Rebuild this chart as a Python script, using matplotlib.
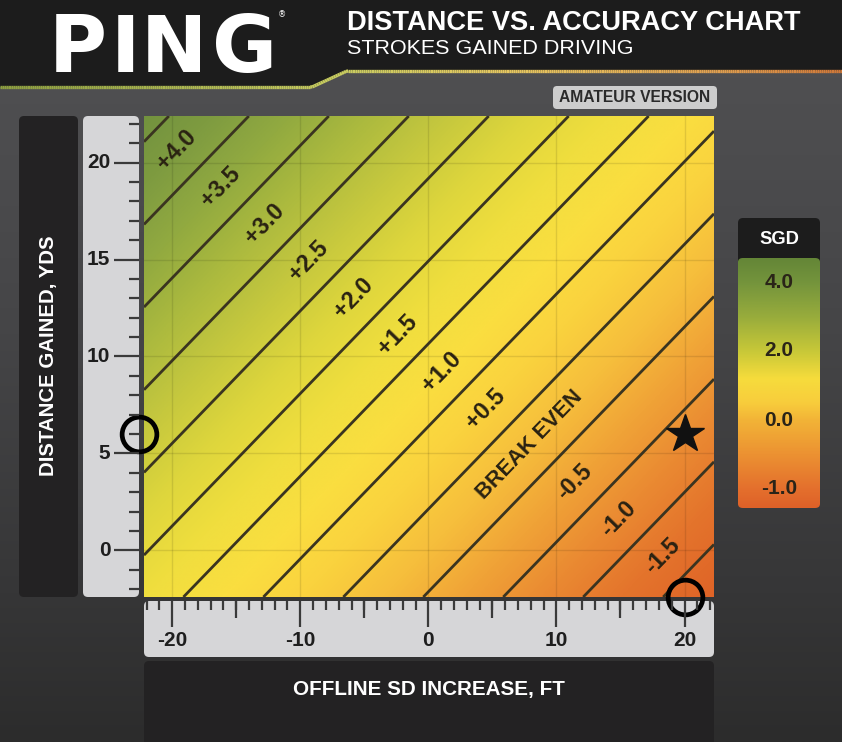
import numpy as np
import matplotlib
matplotlib.use("Agg")
import matplotlib.pyplot as plt
from matplotlib.patches import FancyBboxPatch, Polygon
from matplotlib.colors import LinearSegmentedColormap
from matplotlib.collections import LineCollection
import matplotlib.transforms as mtransforms

# ---------------- data ----------------
x_ticks = [-20, -10, 0, 10, 20]
x_tick_labels = ["-20", "-10", "0", "10", "20"]
x_mid_ticks = [-15, -5, 5, 15]
y_ticks = [0, 5, 10, 15, 20]
y_tick_labels = ["0", "5", "10", "15", "20"]
x_limits = (-22.2, 22.3)          # offline SD increase, ft
y_limits = (-2.4, 22.4)           # distance gained, yds
sgd_per_yard = 0.1173             # strokes gained per yard of distance
sgd_per_foot = -0.0801            # strokes gained per foot of offline SD
line_levels = [-1.75, -1.25, -0.75, -0.25, 0.25, 0.75, 1.25, 1.75,
               2.25, 2.75, 3.25, 3.75, 4.25]
band_values = [4.0, 3.5, 3.0, 2.5, 2.0, 1.5, 1.0, 0.5, 0.0, -0.5, -1.0, -1.5]
band_labels = ["+4.0", "+3.5", "+3.0", "+2.5", "+2.0", "+1.5", "+1.0",
               "+0.5", "BREAK EVEN", "-0.5", "-1.0", "-1.5"]
star_point = (20, 6)
cbar_values = [-1.0, 0.0, 2.0, 4.0]
cbar_labels = ["-1.0", "0.0", "2.0", "4.0"]
logo_letters = ["P", "I", "N", "G"]

# colour stops (SGD value -> colour)
field_stops = [(-2.2, (222, 96, 38)), (-1.5, (228, 116, 44)), (-1.0, (234, 138, 50)),
               (-0.5, (240, 163, 55)), (0.0, (246, 190, 60)), (0.5, (250, 210, 62)),
               (1.0, (250, 222, 64)), (1.5, (240, 222, 62)), (2.0, (222, 214, 60)),
               (2.5, (198, 200, 62)), (3.0, (172, 186, 62)), (3.5, (146, 170, 64)),
               (4.0, (126, 155, 64)), (4.6, (110, 143, 62))]
cbar_stops = [(-1.3, (222, 96, 40)), (-1.0, (228, 112, 45)), (-0.5, (236, 146, 50)),
              (0.0, (242, 180, 55)), (0.5, (248, 205, 60)), (1.2, (246, 220, 60)),
              (2.0, (200, 200, 56)), (3.0, (152, 172, 60)), (4.0, (116, 148, 60)),
              (4.7, (100, 134, 55))]

# ---------------- helpers ----------------
W, H, DPI = 842, 742, 100
fig = plt.figure(figsize=(W / DPI, H / DPI), dpi=DPI)
renderer = fig.canvas.get_renderer()
BOLD = dict(family=["Liberation Sans", "DejaVu Sans"], weight="bold")
REG = dict(family=["Liberation Sans", "DejaVu Sans"], weight="normal")
NARROW = dict(family=["Liberation Sans Narrow", "Liberation Sans", "DejaVu Sans"], weight="bold")


def px(x0, y0, x1, y1):
    return [x0 / W, 1 - y1 / H, (x1 - x0) / W, (y1 - y0) / H]


def fit_size(s, target, **kw):
    t = fig.text(0, 0, s, fontsize=20, **kw)
    w = t.get_window_extent(renderer).width
    t.remove()
    return 20 * target / w


def make_cmap(stops, name):
    vals = np.array([s[0] for s in stops])
    lo, hi = vals.min(), vals.max()
    return (LinearSegmentedColormap.from_list(
        name, [((v - lo) / (hi - lo), tuple(c / 255 for c in col)) for v, col in stops]), lo, hi)


def bare(a):
    a.patch.set_alpha(0)
    for s in a.spines.values():
        s.set_visible(False)


# ---------------- background canvas (pixel coords) ----------------
bg = fig.add_axes([0, 0, 1, 1])
bg.set_xlim(0, W)
bg.set_ylim(H, 0)
bg.axis("off")
grad = np.linspace(0, 1, 256)[:, None]
bg_cmap = LinearSegmentedColormap.from_list(
    "bg", [(0, "#525254"), (0.45, "#454547"), (0.8, "#363637"), (1, "#2c2c2c")])
bg.imshow(grad, extent=[0, W, H, 0], cmap=bg_cmap, aspect="auto", zorder=0)

# header
hdr = Polygon([(0, 0), (W, 0), (W, 71), (347, 71), (312, 87), (0, 87)],
              closed=True, fc="#1c1c1c", ec="none", zorder=1)
bg.add_patch(hdr)
sx = np.array([0, 312, 347, 560, 700, W])
sy = np.array([87, 87, 71, 71, 71, 71])
xs = np.linspace(0, W, 400)
ys = np.interp(xs, sx, sy)
pts = np.column_stack([xs, ys]).reshape(-1, 1, 2)
segs = np.concatenate([pts[:-1], pts[1:]], axis=1)
stripe_cmap = LinearSegmentedColormap.from_list(
    "stripe", [(0, "#8ea040"), (0.4, "#c8cc60"), (0.6, "#e6c860"), (0.85, "#e0a050"), (1, "#d07838")])
lc = LineCollection(segs, cmap=stripe_cmap, linewidths=2.4, zorder=2)
lc.set_array(xs[:-1] / W)
bg.add_collection(lc)

# PING logo (letters spread over the logo width) and titles
logo_font = dict(family=["DejaVu Sans"], weight="bold")
cap = fig.text(0, 0, "P", fontsize=50, **logo_font)
cap_h = cap.get_window_extent(renderer).height
cap.remove()
logo_size = 50 * 60 / (cap_h * 0.73 / 0.93)
logo_centers = [78, 125, 174, 245]
for cx, ch in zip(logo_centers, logo_letters):
    bg.text(cx, 72, ch, color="white", ha="center", va="baseline", zorder=3,
            fontsize=logo_size, **logo_font)
bg.text(282, 15, "\u00ae", color="white", fontsize=6, ha="center", va="center", zorder=3)
bg.text(347, 23, "DISTANCE VS. ACCURACY CHART", color="white", ha="left", va="center",
        fontsize=fit_size("DISTANCE VS. ACCURACY CHART", 453, **BOLD), zorder=3, **BOLD)
bg.text(347, 48, "STROKES GAINED DRIVING", color="white", ha="left", va="center",
        fontsize=fit_size("STROKES GAINED DRIVING", 286, **REG), zorder=3, **REG)

# AMATEUR VERSION badge
bg.add_patch(FancyBboxPatch((553, 86), 164, 23, boxstyle="round,pad=0,rounding_size=4",
                            fc="#cdcdcd", ec="none", zorder=2))
bg.text(635, 98, "AMATEUR VERSION", color="#2a2a2a", ha="center", va="center", zorder=3,
        fontsize=fit_size("AMATEUR VERSION", 152, **BOLD), **BOLD)

# side panels
bg.add_patch(FancyBboxPatch((19, 116), 59, 481, boxstyle="round,pad=0,rounding_size=5",
                            fc="#232223", ec="none", zorder=2))
bg.add_patch(FancyBboxPatch((83, 116), 56, 481, boxstyle="round,pad=0,rounding_size=5",
                            fc="#d6d6d8", ec="none", zorder=2))
bg.add_patch(FancyBboxPatch((144, 601), 570, 56, boxstyle="round,pad=0,rounding_size=5",
                            fc="#d6d6d8", ec="none", zorder=2))
bg.add_patch(FancyBboxPatch((144, 661), 570, 90, boxstyle="round,pad=0,rounding_size=5",
                            fc="#232223", ec="none", zorder=2))
bg.add_patch(FancyBboxPatch((738, 218), 82, 48, boxstyle="round,pad=0,rounding_size=5",
                            fc="#1c1c1c", ec="none", zorder=2))

bg.text(49, 356, "DISTANCE GAINED, YDS", color="white", rotation=90, ha="center", va="center",
        fontsize=fit_size("DISTANCE GAINED, YDS", 240, **NARROW), zorder=3, **NARROW)
bg.text(429, 690, "OFFLINE SD INCREASE, FT", color="white", ha="center", va="center",
        fontsize=fit_size("OFFLINE SD INCREASE, FT", 271, **NARROW), zorder=3, **NARROW)
bg.text(779, 239, "SGD", color="white", ha="center", va="center",
        fontsize=fit_size("SGD", 40, **BOLD), zorder=3, **BOLD)

# ---------------- main chart ----------------
ax = fig.add_axes(px(144, 116, 714, 597))
ax.set_xlim(*x_limits)
ax.set_ylim(*y_limits)
ax.axis("off")
gx = np.linspace(x_limits[0], x_limits[1], 600)
gy = np.linspace(y_limits[0], y_limits[1], 600)
X, Y = np.meshgrid(gx, gy)
Z = sgd_per_yard * Y + sgd_per_foot * X
fcmap, flo, fhi = make_cmap(field_stops, "field")
ax.imshow(Z, extent=[*x_limits, *y_limits], origin="lower", cmap=fcmap,
          vmin=flo, vmax=fhi, aspect="auto", interpolation="bilinear", zorder=0)
for xv in x_ticks:
    ax.axvline(xv, color="black", alpha=0.10, lw=1.0, zorder=1)
for yv in y_ticks:
    ax.axhline(yv, color="black", alpha=0.10, lw=1.0, zorder=1)
ax.contour(X, Y, Z, levels=line_levels, colors="#3a3420", linewidths=2.0,
           linestyles="solid", zorder=2)

# band labels along a guide line through the bands
g0 = np.array([-19.6, 20.6])
g1 = np.array([18.5, -0.4])
p0 = ax.transData.transform((0, 0))
p1 = ax.transData.transform((1, -sgd_per_foot / sgd_per_yard))
angle = np.degrees(np.arctan2(p1[1] - p0[1], p1[0] - p0[0]))
num_size = fit_size("+4.0", 46, **NARROW)
for val, lab in zip(band_values, band_labels):
    d = g1 - g0
    f0 = sgd_per_yard * g0[1] + sgd_per_foot * g0[0]
    fd = sgd_per_yard * d[1] + sgd_per_foot * d[0]
    t = (val - f0) / fd
    px_, py_ = g0 + t * d
    size = fit_size(lab, 142, **NARROW) if lab == "BREAK EVEN" else num_size
    ax.text(px_, py_, lab, rotation=angle, rotation_mode="anchor", ha="center", va="center",
            fontsize=size, color="#2a2212", zorder=3, **NARROW)

# star and circle markers
ax.plot(*star_point, marker="*", markersize=29, color="#111111", zorder=5, clip_on=False)
bl = mtransforms.blended_transform_factory(ax.transAxes, ax.transData)
ax.plot(-0.009, star_point[1], marker="o", markersize=25, mfc="none", mec="black",
        mew=3.4, transform=bl, clip_on=False, zorder=6)
bl2 = mtransforms.blended_transform_factory(ax.transData, ax.transAxes)
ax.plot(star_point[0], 0.0, marker="o", markersize=25, mfc="none", mec="black",
        mew=3.4, transform=bl2, clip_on=False, zorder=6)

# ---------------- y tick ruler ----------------
ay = fig.add_axes(px(83, 116, 139, 597))
ay.set_ylim(*y_limits)
bare(ay)
ay.set_xticks([])
ay.set_yticks(y_ticks)
ay.set_yticks(np.arange(-2, 23, 1), minor=True)
ay.tick_params(axis="y", which="both", left=False, right=True, labelleft=False,
               labelright=False, direction="in", color="#3a3a3a")
ay.tick_params(axis="y", which="major", length=18, width=1.6)
ay.tick_params(axis="y", which="minor", length=7.5, width=1.6)
for v, lab in zip(y_ticks, y_tick_labels):
    ay.text(0.49, v, lab, transform=mtransforms.blended_transform_factory(ay.transAxes, ay.transData),
            ha="right", va="center", fontsize=15, color="#1e1e1e", **NARROW)

# ---------------- x tick ruler ----------------
axx = fig.add_axes(px(144, 601, 714, 657))
axx.set_xlim(*x_limits)
bare(axx)
axx.set_yticks([])
axx.set_xticks(x_ticks)
axx.set_xticks(np.arange(-22, 23, 1), minor=True)
axx.xaxis.set_ticks_position("top")
axx.tick_params(axis="x", which="both", bottom=False, top=True, labelbottom=False,
                labeltop=False, direction="in", color="#3a3a3a")
axx.tick_params(axis="x", which="major", length=19, width=1.6)
axx.tick_params(axis="x", which="minor", length=6.5, width=1.6)
mid = fig.add_axes(px(144, 601, 714, 657))
mid.set_xlim(*x_limits)
bare(mid)
mid.set_yticks([])
mid.set_xticks(x_mid_ticks)
mid.xaxis.set_ticks_position("top")
mid.tick_params(axis="x", which="major", bottom=False, top=True, labeltop=False,
                labelbottom=False, direction="in", length=12.5, width=1.6, color="#3a3a3a")
mid.tick_params(axis="x", which="minor", bottom=False, top=False)
for v, lab in zip(x_ticks, x_tick_labels):
    axx.text(v, 0.30, lab, transform=mtransforms.blended_transform_factory(axx.transData, axx.transAxes),
             ha="center", va="center", fontsize=15, color="#1e1e1e", **NARROW)

# ---------------- SGD colour bar ----------------
ac = fig.add_axes(px(738, 258, 820, 508))
pos = np.arange(len(cbar_values))
top_pos, bot_pos = 3 + 24 / 69, -19 / 69
ac.set_xlim(0, 1)
ac.set_ylim(bot_pos, top_pos)
ac.axis("off")
tt = np.linspace(bot_pos, top_pos, 400)
slope_hi = (cbar_values[-1] - cbar_values[-2])
slope_lo = (cbar_values[1] - cbar_values[0])
vv = np.interp(tt, pos, cbar_values)
vv = np.where(tt > pos[-1], cbar_values[-1] + (tt - pos[-1]) * slope_hi, vv)
vv = np.where(tt < pos[0], cbar_values[0] + (tt - pos[0]) * slope_lo, vv)
ccmap, clo, chi = make_cmap(cbar_stops, "cbar")
img = ac.imshow(vv[:, None], extent=[0, 1, bot_pos, top_pos], origin="lower", cmap=ccmap,
                vmin=clo, vmax=chi, aspect="auto", zorder=0)
clip = FancyBboxPatch((0, bot_pos), 1, top_pos - bot_pos,
                      boxstyle="round,pad=0,rounding_size=0.06", transform=ac.transData,
                      fc="none", ec="none")
ac.add_patch(clip)
img.set_clip_path(clip)
for p, lab in zip(pos, cbar_labels):
    ac.text(0.5, p, lab, ha="center", va="center", fontsize=15, color="#2a2418", **NARROW)

fig.savefig("out.png", dpi=DPI)
